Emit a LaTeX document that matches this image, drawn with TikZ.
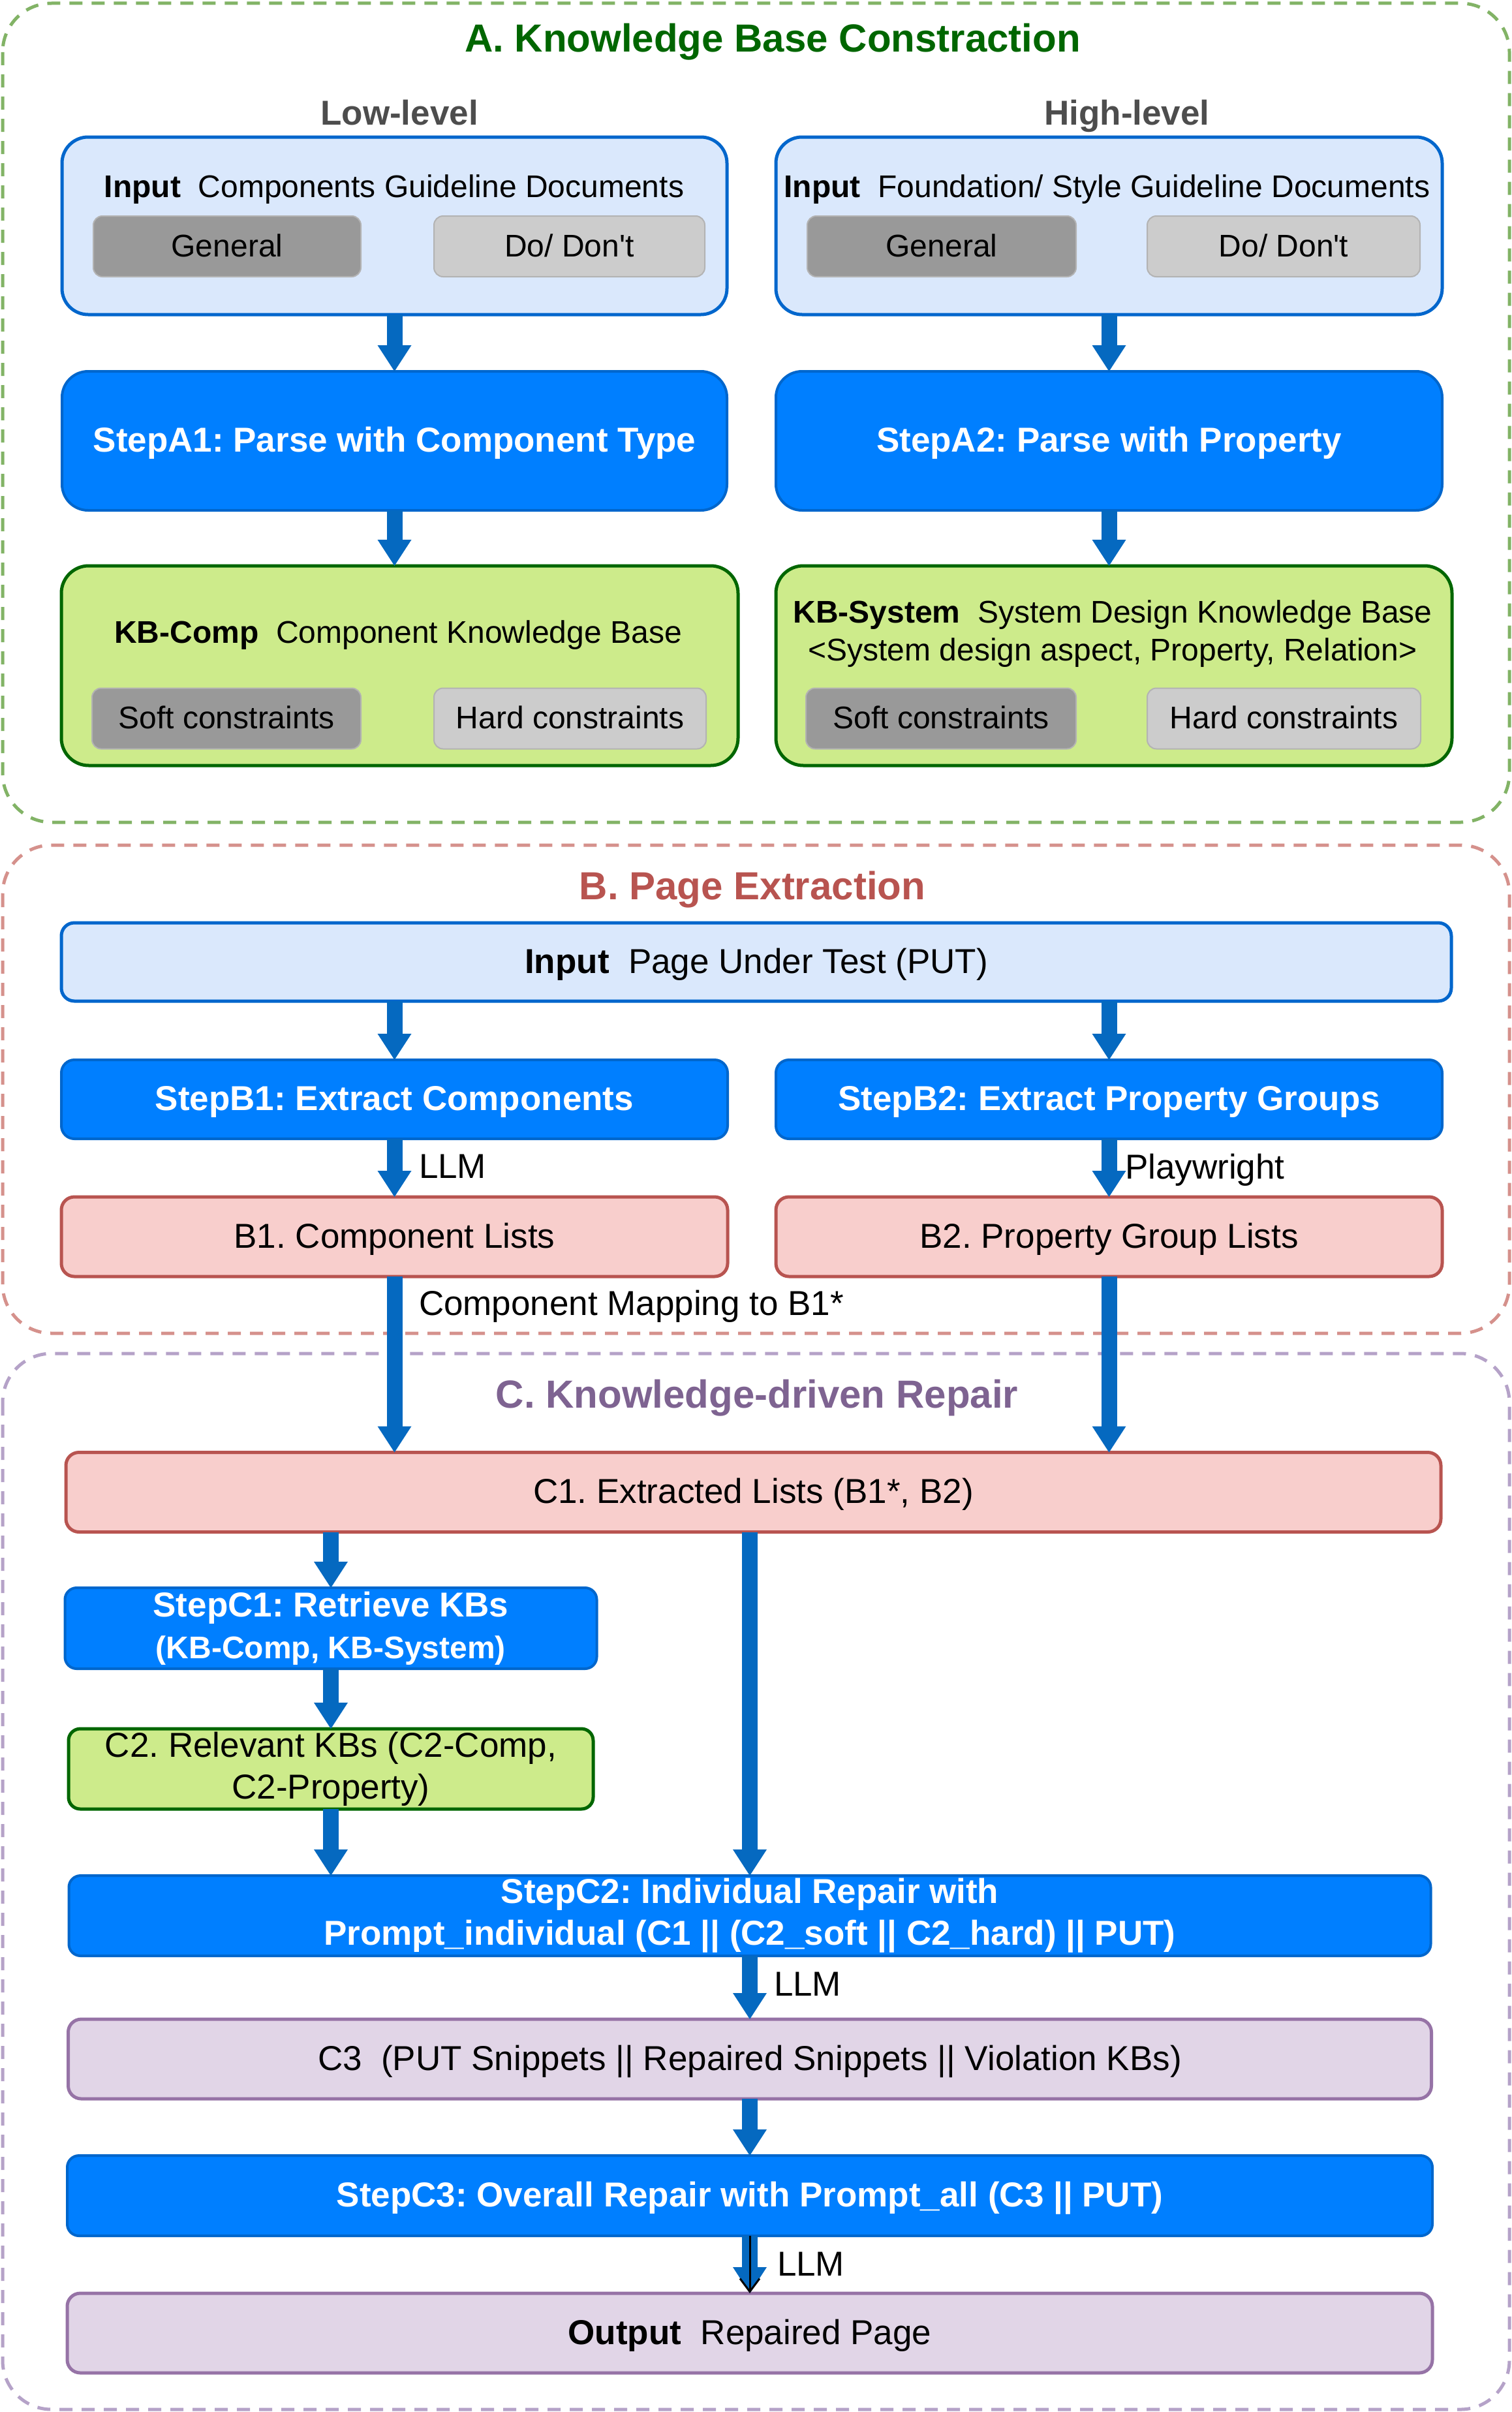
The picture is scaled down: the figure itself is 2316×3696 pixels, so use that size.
\documentclass[tikz,border=0pt]{standalone}
\usepackage{fontspec}
\setmainfont{Liberation Sans}
\usetikzlibrary{arrows.meta}
\frenchspacing

\definecolor{stepfill}{HTML}{007FFF}
\definecolor{stepline}{HTML}{0066CC}
\definecolor{inputfill}{HTML}{DAE8FC}
\definecolor{inputline}{HTML}{0066CC}
\definecolor{flowblue}{HTML}{0569C0}
\definecolor{kbfill}{HTML}{CDEB8B}
\definecolor{kbline}{HTML}{006600}
\definecolor{redfill}{HTML}{F8CECC}
\definecolor{redline}{HTML}{B85450}
\definecolor{purpfill}{HTML}{E1D5E7}
\definecolor{purpline}{HTML}{9673A6}
\definecolor{tagdark}{HTML}{999999}
\definecolor{taglight}{HTML}{CCCCCC}
\definecolor{tagline}{HTML}{B3B3B3}
\definecolor{levelgray}{HTML}{4D4D4D}
\definecolor{frameA}{HTML}{82B366}
\definecolor{frameB}{HTML}{D5918C}
\definecolor{frameC}{HTML}{B5A2C8}
\definecolor{headA}{HTML}{006600}
\definecolor{headB}{HTML}{B85450}
\definecolor{headC}{HTML}{7E6391}

\newcommand{\normtext}{\fontsize{53}{64}\selectfont}
\newcommand{\smalltext}{\fontsize{48}{58}\selectfont}
\newcommand{\headtext}{\fontsize{60}{72}\selectfont\bfseries}

\tikzset{
  every node/.style={inner sep=0pt, outer sep=0pt},
  oneline/.style={text height=41pt, text depth=7pt},
  onelinesmall/.style={text height=37pt, text depth=6pt},
  frame/.style={line width=5pt, rounded corners=75pt, dash pattern=on 20pt off 14pt},
  inbox/.style={draw=inputline, fill=inputfill, line width=5pt},
  tagbox/.style={draw=tagline, line width=2pt, rounded corners=14pt, minimum height=93pt, font=\smalltext, onelinesmall},
  stepbox/.style={draw=stepline, fill=stepfill, line width=4pt, text=white, font=\normtext\bfseries, align=center},
  kbbox/.style={draw=kbline, fill=kbfill, line width=5pt},
  listbox/.style={draw=redline, fill=redfill, line width=5pt, rounded corners=20pt, font=\normtext, minimum height=122pt, oneline},
  purpbox/.style={draw=purpline, fill=purpfill, line width=5pt, rounded corners=20pt, font=\normtext, minimum height=122pt, oneline},
  flow/.style={draw=flowblue, line width=24pt, -{Triangle[width=52pt,length=40pt,line width=0pt]}},
  thinflow/.style={draw=black, line width=3pt, -{Straight Barb[length=20pt,width=30pt]}},
  note/.style={anchor=base west, font=\normtext}
}

\begin{document}
\begin{tikzpicture}[x=1pt, y=-1pt]
\useasboundingbox (0,0) rectangle (2316,3696);

% section frames
\draw[frame, draw=frameA] (4,5) rectangle (2313,1260);
\draw[frame, draw=frameB] (4,1295) rectangle (2313,2043);
\draw[frame, draw=frameC] (4,2074) rectangle (2313,3692);

\node[anchor=base, font=\headtext, text=headA] (headA) at (1184,80) {A. Knowledge Base Constraction};
\node[anchor=base, font=\headtext, text=headB] (headB) at (1153,1378) {B. Page Extraction};
\node[anchor=base, font=\headtext, text=headC] (headC) at (1160,2157) {C. Knowledge-driven Repair};

% A. knowledge base
\node[anchor=base, font=\normtext\bfseries, text=levelgray] (lowlvl) at (612,191) {Low-level};
\node[anchor=base, font=\normtext\bfseries, text=levelgray] (highlvl) at (1727,191) {High-level};

\node[inbox, rounded corners=40pt, minimum width=1019pt, minimum height=272pt] (inL) at (604.5,346) {};
\node[anchor=base, font=\smalltext] (inLtxt) at (604,302) {\textbf{Input}~~Components Guideline Documents};
\node[tagbox, fill=tagdark, minimum width=410pt] (genL) at (348,377.5) {General};
\node[tagbox, fill=taglight, minimum width=415pt] (dosL) at (872.5,377.5) {Do/ Don\textquotesingle t};

\node[inbox, rounded corners=40pt, minimum width=1021pt, minimum height=272pt] (inR) at (1699.5,346) {};
\node[anchor=base, font=\smalltext] (inRtxt) at (1696.5,302) {\textbf{Input}~~Foundation/ Style Guideline Documents};
\node[tagbox, fill=tagdark, minimum width=412pt] (genR) at (1443,377.5) {General};
\node[tagbox, fill=taglight, minimum width=418pt] (dosR) at (1967,377.5) {Do/ Don\textquotesingle t};

\node[stepbox, oneline, rounded corners=40pt, minimum width=1019pt, minimum height=213pt] (stepA1) at (604.5,675.5) {StepA1: Parse with Component Type};
\node[stepbox, oneline, rounded corners=40pt, minimum width=1021pt, minimum height=213pt] (stepA2) at (1699.5,675.5) {StepA2: Parse with Property};

\node[kbbox, rounded corners=42pt, minimum width=1037pt, minimum height=306pt] (kbComp) at (612.5,1020) {};
\node[anchor=base, font=\smalltext] (kbCompTxt) at (610,985) {\textbf{KB-Comp}~~Component Knowledge Base};
\node[tagbox, fill=tagdark, minimum width=412pt] (softL) at (347,1101) {Soft constraints};
\node[tagbox, fill=taglight, minimum width=417pt] (hardL) at (873.5,1101) {Hard constraints};

\node[kbbox, rounded corners=42pt, minimum width=1036pt, minimum height=306pt] (kbSys) at (1707,1020) {};
\node[anchor=base, font=\smalltext] (kbSysTxt) at (1705,954) {\textbf{KB-System}~~System Design Knowledge Base};
\node[anchor=base, font=\smalltext] (kbSysSub) at (1705,1012) {<System design aspect, Property, Relation>};
\node[tagbox, fill=tagdark, minimum width=414pt] (softR) at (1442,1101) {Soft constraints};
\node[tagbox, fill=taglight, minimum width=419pt] (hardR) at (1967.5,1101) {Hard constraints};

% B. page extraction
\node[inbox, oneline, rounded corners=20pt, font=\normtext, minimum width=2130pt, minimum height=120pt] (putIn) at (1159,1474) {\textbf{Input}~~Page Under Test (PUT)};
\node[stepbox, oneline, rounded corners=20pt, minimum width=1021pt, minimum height=121pt] (stepB1) at (604.5,1684.5) {StepB1: Extract Components};
\node[stepbox, oneline, rounded corners=20pt, minimum width=1021pt, minimum height=121pt] (stepB2) at (1699.5,1684.5) {StepB2: Extract Property Groups};
\node[listbox, minimum width=1021pt] (b1) at (604.5,1895) {B1. Component Lists};
\node[listbox, minimum width=1021pt] (b2) at (1699.5,1895) {B2. Property Group Lists};

% C. repair
\node[listbox, minimum width=2107pt] (c1) at (1154.5,2286.5) {C1. Extracted Lists (B1*, B2)};
\node[stepbox, rounded corners=18pt, minimum width=815pt, minimum height=124pt] (stepC1) at (507,2495) {StepC1: Retrieve KBs\\{\fontsize{48}{64}\selectfont (KB-Comp, KB-System)}};
\node[kbbox, rounded corners=18pt, font=\normtext, align=center, minimum width=804pt, minimum height=123pt] (c2) at (507,2710.5) {C2. Relevant KBs (C2-Comp,\\C2-Property)};
\node[stepbox, rounded corners=18pt, minimum width=2087pt, minimum height=123pt] (stepC2) at (1149,2935.5) {StepC2: Individual Repair with\\Prompt\_individual (C1 || (C2\_soft || C2\_hard) || PUT)};
\node[purpbox, minimum width=2089pt] (c3) at (1149,3155) {C3~~(PUT Snippets || Repaired Snippets || Violation KBs)};
\node[stepbox, oneline, rounded corners=18pt, minimum width=2092pt, minimum height=123pt] (stepC3) at (1149,3364.5) {StepC3: Overall Repair with Prompt\_all (C3 || PUT)};
\node[purpbox, minimum width=2092pt] (out) at (1149,3575) {\textbf{Output}~~Repaired Page};

% connectors
\draw[flow] (inL) -- (stepA1);
\draw[flow] (inR) -- (stepA2);
\draw[flow] (stepA1.south) -- (stepA1.south |- kbComp.north);
\draw[flow] (stepA2.south) -- (stepA2.south |- kbSys.north);
\draw[flow] (putIn.south -| stepB1.north) -- (stepB1.north);
\draw[flow] (putIn.south -| stepB2.north) -- (stepB2.north);
\draw[flow] (stepB1) -- (b1);
\draw[flow] (stepB2) -- (b2);
\draw[flow] (b1.south) -- (b1.south |- c1.north);
\draw[flow] (b2.south) -- (b2.south |- c1.north);
\draw[flow] (c1.south -| stepC1.north) -- (stepC1.north);
\draw[flow] (stepC1) -- (c2);
\draw[flow] (c2.south) -- (c2.south |- stepC2.north);
\draw[flow] (c1.south -| stepC2.north) -- (stepC2.north);
\draw[flow] (stepC2) -- (c3);
\draw[flow] (c3) -- (stepC3);
\draw[flow] (stepC3) -- (out);
\draw[thinflow] (stepC3) -- (out);

\node[note] (llmB) at (642,1805) {LLM};
\node[note] (playB) at (1724,1806) {Playwright};
\node[note] (mapB) at (642,2015) {Component Mapping to B1*};
\node[note] (llmC2) at (1186,3058) {LLM};
\node[note] (llmC3) at (1191,3487) {LLM};
\end{tikzpicture}
\end{document}
